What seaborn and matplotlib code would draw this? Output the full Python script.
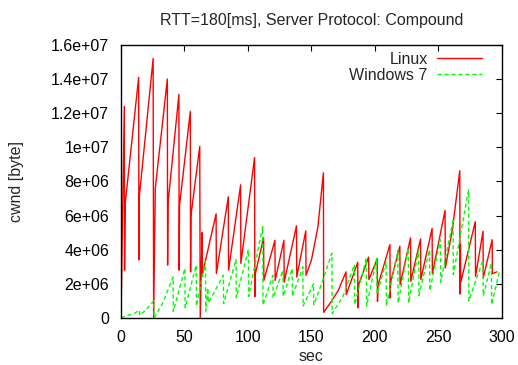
import numpy as np
import pandas as pd
import matplotlib
matplotlib.use("Agg")
import matplotlib.pyplot as plt
import seaborn as sns

# Linux cwnd sawtooth (time in sec, cwnd in 1e6 bytes)
linux_t = [0, 2.6, 2.8, 3.3, 13.9, 14.1, 14.4, 25.3, 25.7, 27.0, 36.5, 36.7, 37.0,
           45.6, 45.8, 46.1, 54.6, 54.8, 55.1, 62.0, 62.4, 63.9, 64.2, 74.9, 75.1,
           84.5, 84.7, 94.2, 94.4, 105.2, 105.4, 105.8, 112.3, 112.5, 121.2, 121.4,
           128.3, 128.5, 138.2, 138.4, 145.5, 145.7, 150.0, 155.0, 159.4, 159.6,
           165.0, 171.0, 177.2, 177.4, 186.4, 186.6, 186.9, 195.0, 195.2, 201.8,
           202.0, 202.3, 211.8, 212.0, 212.3, 219.6, 219.8, 228.0, 228.2, 235.9,
           236.1, 245.0, 245.2, 255.2, 255.4, 261.0, 266.8, 267.0, 267.3, 267.6,
           279.0, 279.2, 285.1, 285.3, 292.3, 292.5, 296.0]
linux_cwnd = [0, 12.4, 2.8, 6.7, 14.1, 3.4, 7.1, 15.2, 0.0, 7.6, 14.0, 3.1, 6.7,
              13.1, 2.8, 6.6, 12.1, 2.7, 6.0, 10.05, 0.0, 5.0, 2.6, 6.1, 2.6,
              7.1, 2.8, 7.8, 3.2, 9.4, 1.25, 2.6, 4.7, 2.2, 4.55, 2.2,
              4.55, 2.1, 5.4, 2.4, 5.1, 2.5, 3.4, 5.3, 8.5, 0.33,
              0.9, 1.6, 2.7, 1.37, 3.26, 0.6, 1.9, 3.57, 2.25, 3.46,
              0.98, 1.9, 4.3, 1.17, 2.1, 4.2, 1.95, 4.69, 2.15, 4.63,
              2.25, 5.25, 2.6, 6.3, 2.93, 5.2, 8.63, 1.4, 4.3, 2.1,
              5.64, 2.44, 5.08, 2.34, 4.59, 2.6, 2.7]

# Windows 7 cwnd sawtooth
win7_t = [0, 5, 10, 14.5, 14.8, 20, 25.8, 26.1, 33, 41.0, 41.2, 50.3, 50.5, 59.2,
          59.4, 66.5, 66.7, 68.3, 68.9, 80.6, 80.8, 90.6, 90.8, 100.3, 100.5,
          111.6, 111.8, 119.6, 119.8, 127.5, 127.7, 134.8, 135.0, 143.2, 143.4,
          151.6, 151.8, 158.0, 166.1, 166.3, 175.0, 183.8, 184.0, 193.2, 193.4,
          201.4, 201.6, 208.8, 209.0, 218.0, 218.2, 226.3, 226.5, 234.4, 234.6,
          243.0, 243.2, 251.5, 251.7, 261.5, 261.7, 273.7, 273.9, 285.1, 285.3,
          291.7, 291.9, 298.2]
win7_cwnd = [0, 0.15, 0.25, 0.45, 0.15, 0.5, 1.0, 0.0, 0.9, 2.4, 0.38, 2.9, 0.6, 3.1,
             0.7, 3.3, 0.4, 1.75, 0.9, 2.5, 0.84, 3.42, 1.19, 4.0, 1.27,
             5.35, 0.75, 2.5, 1.17, 2.8, 1.27, 2.9, 1.27, 3.0, 0.7,
             2.0, 0.78, 2.0, 3.8, 0.25, 1.3, 3.13, 0.78, 3.5, 0.7,
             3.5, 1.4, 3.3, 0.7, 3.95, 0.88, 4.1, 0.88, 4.0, 1.3,
             4.0, 1.6, 4.6, 2.1, 5.7, 2.55, 7.5, 1.0, 3.4, 1.3,
             3.22, 0.78, 2.8]

y_ticks = [0, 2e6, 4e6, 6e6, 8e6, 1e7, 1.2e7, 1.4e7, 1.6e7]
y_ticklabels = ["0", "2e+06", "4e+06", "6e+06", "8e+06", "1e+07", "1.2e+07", "1.4e+07", "1.6e+07"]
x_ticks = [0, 50, 100, 150, 200, 250, 300]

linux = pd.DataFrame({"sec": linux_t, "cwnd": np.array(linux_cwnd) * 1e6})
win7 = pd.DataFrame({"sec": win7_t, "cwnd": np.array(win7_cwnd) * 1e6})

sns.set_style("white")
plt.rcParams["font.family"] = ["Liberation Sans", "DejaVu Sans"]
fs = 11.5

fig, ax = plt.subplots(figsize=(5.18, 3.65), dpi=100)
fig.subplots_adjust(left=0.2336, right=0.969, top=0.877, bottom=0.1288)

sns.lineplot(data=linux, x="sec", y="cwnd", color="#ff0000", lw=1.0, sort=False,
             estimator=None, label="Linux", ax=ax)
sns.lineplot(data=win7, x="sec", y="cwnd", color="#00ff00", lw=1.0, sort=False,
             estimator=None, label="Windows 7", ax=ax)
ax.lines[1].set_dashes((3, 2))

ax.set_xlim(0, 300)
ax.set_ylim(0, 1.6e7)
ax.set_xticks(x_ticks)
ax.set_yticks(y_ticks)
ax.set_yticklabels(y_ticklabels)
ax.tick_params(direction="in", length=4, width=0.8, top=True, right=True,
               labelsize=fs, colors="black")
ax.tick_params(axis="y", pad=8.5)
ax.tick_params(axis="x", pad=8.5)
for s in ax.spines.values():
    s.set_color("black")
    s.set_linewidth(1.0)

ax.set_title("RTT=180[ms], Server Protocol: Compound", fontsize=fs, pad=14)
ax.set_xlabel("sec", fontsize=fs)
ax.set_ylabel("cwnd [byte]", fontsize=fs)
ax.xaxis.set_label_coords(0.5, -0.115)
ax.yaxis.set_label_coords(-0.255, 0.5)

leg = ax.legend(loc="upper right", bbox_to_anchor=(0.9475, 0.974), frameon=False,
                markerfirst=False, borderpad=0, borderaxespad=0, handlelength=2.8,
                handletextpad=0.6, labelspacing=0.05, fontsize=fs)
leg.get_lines()[1].set_dashes((3, 2))

fig.savefig("out.png", dpi=100)
